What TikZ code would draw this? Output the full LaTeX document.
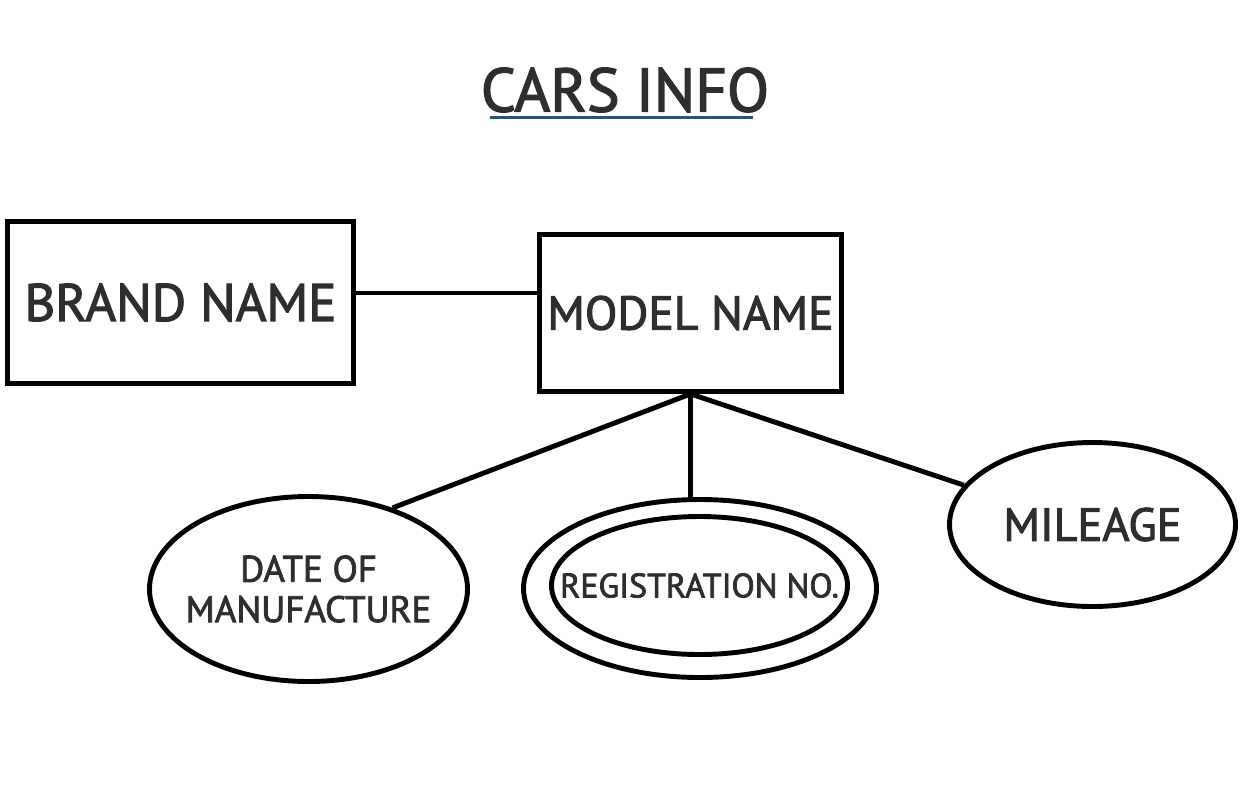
\documentclass[tikz,border=0pt]{standalone}
\usepackage{fontspec}
\setmainfont{PT Sans}[FakeBold=2.2]
\usepackage{xcolor}
\usepackage{tikz}
\usetikzlibrary{shapes,positioning}

\definecolor{inkgray}{HTML}{2E2E2E}
\definecolor{ulteal}{HTML}{2E5566}

\begin{document}
\begin{tikzpicture}[
        entity/.style={rectangle, draw, line width=2.8pt, align=center, text=inkgray, inner sep=0pt},
        attrib/.style={ellipse, draw, line width=2.8pt, align=center, text=inkgray, inner sep=0pt},
        link/.style={line width=2.8pt},
        heading/.style={text=inkgray, inner sep=0pt, font=\fontsize{35}{37}\selectfont}
    ]
        \useasboundingbox (0,0) rectangle (24.92,-15.9);

        % Title
        \node[heading] (title) at (12.5,-1.8) {CARS INFO};
        \draw[ulteal, line width=1.7pt] ([xshift=0.18cm, yshift=-0.1cm]title.south west) -- ([xshift=-0.32cm, yshift=-0.1cm]title.south east);

        % Entities
        \node[entity, minimum width=6.92cm, minimum height=3.24cm, font=\fontsize{30}{32}\selectfont] (brand) at (3.61,-6.05) {BRAND NAME};
        \node[entity, minimum width=6.04cm, minimum height=3.14cm, font=\fontsize{27}{29}\selectfont] (model) at (13.81,-6.26) {MODEL NAME};

        % Attributes (zero-width text keeps the ellipse at its set size)
        \node[attrib, minimum width=6.36cm, minimum height=3.7cm, font=\fontsize{21}{23}\selectfont] (date) at (6.17,-11.78) {\makebox[0pt]{DATE OF}\\\makebox[0pt]{MANUFACTURE}};
        \node[attrib, minimum width=7.06cm, minimum height=3.56cm] (regout) at (14.0,-11.77) {};
        \node[attrib, minimum width=5.92cm, minimum height=2.76cm, font=\fontsize{19.3}{21}\selectfont] (regin) at (13.99,-11.71) {\makebox[0pt]{REGISTRATION NO.}};
        \node[attrib, minimum width=5.72cm, minimum height=3.28cm, font=\fontsize{26.4}{28}\selectfont] (mileage) at (21.85,-10.49) {\makebox[0pt]{MILEAGE}};

        % Links
        \coordinate (bm) at ([yshift=0.19cm]brand.east);
        \draw[link] (bm) -- (bm -| model.west);
        \draw[link] (model.south) -- (date.44);
        \draw[link] (model.south) -- (model.south |- regout.north);
        \draw[link] (model.south) -- (mileage.163);
    \end{tikzpicture}
\end{document}
